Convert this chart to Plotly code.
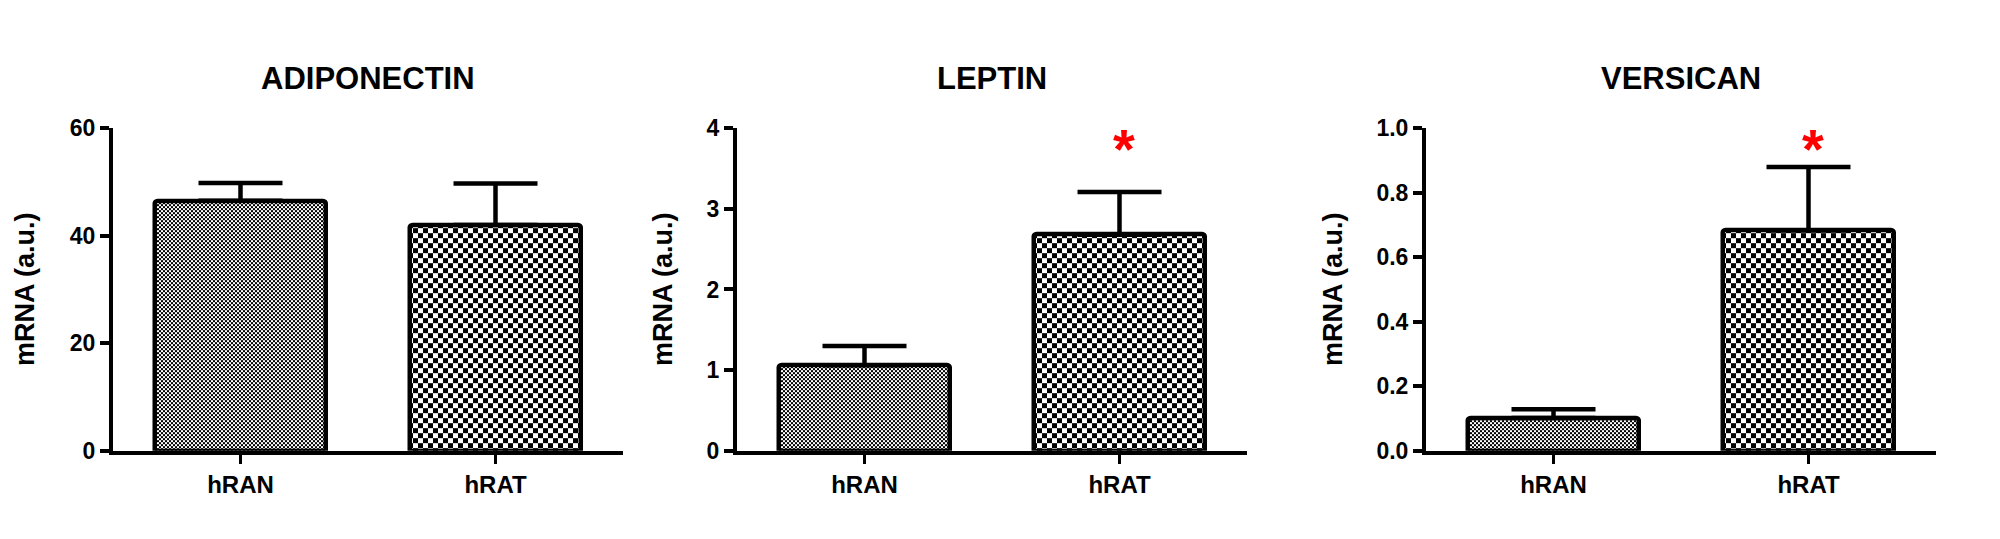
import plotly.graph_objects as go

# ---------------- data ----------------
categories = ["hRAN", "hRAT"]
genes = ["ADIPONECTIN", "LEPTIN", "VERSICAN"]
y_title = "mRNA (a.u.)"

adiponectin_mean = [46.5, 42.0]
adiponectin_sem = [3.3, 7.7]
leptin_mean = [1.06, 2.68]
leptin_sem = [0.24, 0.53]
versican_mean = [0.102, 0.683]
versican_sem = [0.027, 0.197]

means = [adiponectin_mean, leptin_mean, versican_mean]
sems = [adiponectin_sem, leptin_sem, versican_sem]
significant = [[False, False], [False, True], [False, True]]

y_max = [60, 4, 1.0]
y_step = [20, 1, 0.2]
y_fmt = ["d", "d", ".1f"]

# ---------------- layout geometry (pixels in a 2000x539 canvas) ----------------
W, H = 2000, 539
axis_left_px = [113, 737, 1426]
axis_len_px = 510
y_bottom_px, y_top_px = 460, 121
ylabel_x_px = [25, 663, 1333]

FONT = "Liberation Sans"

def checker_path(cell):
    s = 2 * cell
    return f"M0,0H{cell}V{cell}H0Z M{cell},{cell}H{s}V{s}H{cell}Z"

cells = [2, 5]

def make_pattern(j):
    return dict(path=checker_path(cells[j]), size=2 * cells[j],
                fgcolor="black", bgcolor="white", fillmode="replace")

fig = go.Figure()

ydom = [1 - y_bottom_px / H, 1 - y_top_px / H]

for i, gene in enumerate(genes):
    sfx = "" if i == 0 else str(i + 1)
    xa, ya = "x" + sfx, "y" + sfx
    for j, cat in enumerate(categories):
        try:
            marker = go.bar.Marker(color="white", line=dict(color="black", width=4.5),
                                   pattern=make_pattern(j), cornerradius=3)
        except Exception:
            marker = go.bar.Marker(color="white", line=dict(color="black", width=4.5),
                                   pattern=dict(shape=".", size=2 * cells[j] - 1, solidity=0.5,
                                                fgcolor="black", bgcolor="white"),
                                   cornerradius=3)
        fig.add_trace(go.Bar(
            x=[cat], y=[means[i][j]], width=0.67,
            marker=marker,
            error_y=dict(type="data", symmetric=False, array=[sems[i][j]], arrayminus=[0],
                         color="black", thickness=4.5, width=42),
            xaxis=xa, yaxis=ya, showlegend=False, hoverinfo="x+y",
        ))
        if significant[i][j]:
            fig.add_annotation(x=cat, xref=xa, y=1 - 142 / H, yref="paper",
                               xanchor="center", yanchor="middle", xshift=4,
                               text="*", showarrow=False,
                               font=dict(family=FONT, size=56, color="red", weight="bold"))

    x0 = axis_left_px[i] / W
    x1 = (axis_left_px[i] + axis_len_px) / W
    fig.layout["xaxis" + sfx] = dict(
        domain=[x0, x1], anchor=ya, type="category", range=[-0.5, 1.5],
        showline=True, linewidth=4, linecolor="black", mirror=False,
        ticks="outside", ticklen=9, tickwidth=3, tickcolor="black",
        tickfont=dict(family=FONT, size=24, color="black", weight="bold"),
        showgrid=False, zeroline=False, fixedrange=True,
    )
    fig.layout["yaxis" + sfx] = dict(
        domain=ydom, anchor=xa, range=[0, y_max[i]], dtick=y_step[i], tick0=0,
        tickformat=y_fmt[i],
        showline=True, linewidth=4, linecolor="black",
        ticks="outside", ticklen=9, tickwidth=4, tickcolor="black",
        tickfont=dict(family=FONT, size=23, color="black", weight="bold"),
        showgrid=False, zeroline=False, fixedrange=True,
    )
    fig.add_annotation(x=(x0 + x1) / 2, xref="paper", y=1 - 69 / H, yref="paper",
                       xanchor="center", yanchor="middle",
                       text=gene, showarrow=False,
                       font=dict(family=FONT, size=31, color="black", weight="bold"))
    fig.add_annotation(x=ylabel_x_px[i] / W, xref="paper", y=1 - 290 / H, yref="paper",
                       xanchor="center", yanchor="middle",
                       text=y_title, textangle=-90, showarrow=False,
                       font=dict(family=FONT, size=27, color="black", weight="bold"))

fig.update_layout(
    width=W, height=H, autosize=False,
    margin=dict(l=0, r=0, t=0, b=0),
    paper_bgcolor="white", plot_bgcolor="white",
    barmode="overlay", bargap=0,
)

fig.write_html("out.html", config={"displayModeBar": False},
               post_script="document.body.style.margin='0';document.body.style.overflow='hidden';")
